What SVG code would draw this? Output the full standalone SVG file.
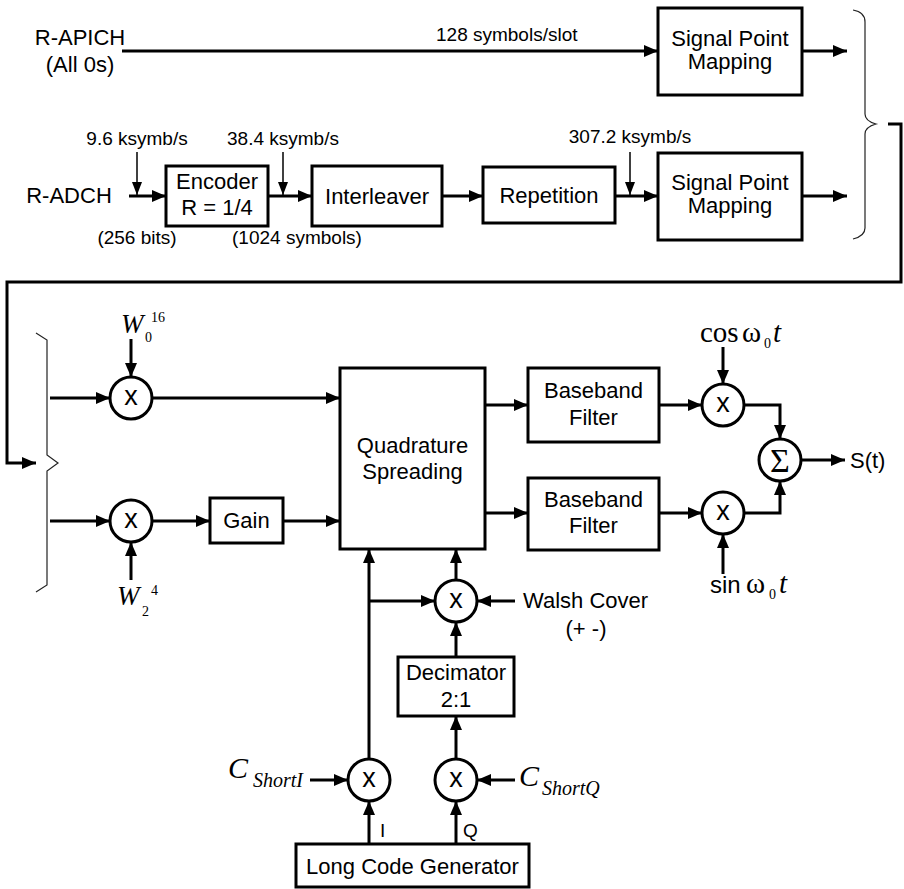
<svg xmlns="http://www.w3.org/2000/svg" width="904" height="889" viewBox="0 0 904 889">
<defs>
<marker id="a" viewBox="0 0 14 12" refX="14" refY="6" markerWidth="14" markerHeight="12" orient="auto" markerUnits="userSpaceOnUse"><path d="M0,0 L14,6 L0,12 z" fill="#000"/></marker>
<marker id="as" viewBox="0 0 13 10" refX="13" refY="5" markerWidth="13" markerHeight="10" orient="auto" markerUnits="userSpaceOnUse"><path d="M0,0 L13,5 L0,10 z" fill="#000"/></marker>
</defs>
<style>
.ln{stroke:#000;stroke-width:3;fill:none}
.th{stroke:#000;stroke-width:1.5;fill:none}
.br{stroke:#222;stroke-width:1.2;fill:none}
.bx{fill:#fff;stroke:#000;stroke-width:3}
.t{font-family:"Liberation Sans",Arial,sans-serif;font-size:22px;fill:#000}
.c{text-anchor:middle}
.s{font-size:19px}
.x{font-family:"Liberation Sans",Arial,sans-serif;font-size:27px;text-anchor:middle}
.m{font-family:"Liberation Serif","Times New Roman",serif;fill:#000}
</style>
<rect width="904" height="889" fill="#fff"/>

<g id="connectors">
<path class="ln" d="M122,51 H658" marker-end="url(#a)"/>
<path class="ln" d="M802,51 H847" marker-end="url(#a)"/>
<path class="ln" d="M129,196 H166" marker-end="url(#a)"/>
<path class="ln" d="M268,196 H312" marker-end="url(#a)"/>
<path class="ln" d="M442,196 H483" marker-end="url(#a)"/>
<path class="ln" d="M615,196 H658" marker-end="url(#a)"/>
<path class="ln" d="M802,196 H847" marker-end="url(#a)"/>
<path class="th" d="M137,152 V195" marker-end="url(#as)"/>
<path class="th" d="M283,152 V195" marker-end="url(#as)"/>
<path class="th" d="M630,152 V195" marker-end="url(#as)"/>
<path class="br" d="M853,10 Q865,12 865,22 L865,114 Q865,121 876,124 Q865,127 865,134 L865,228 Q865,236 853,239"/>
<path class="ln" d="M888,124 H901 V282 H7 V463 H36" marker-end="url(#a)"/>
<path class="br" d="M36,333 L47,340 L47,455 L58,463 L47,471 L47,585 L36,592"/>
<path class="ln" d="M50,398 H110" marker-end="url(#a)"/>
<path class="ln" d="M131,339 V377" marker-end="url(#a)"/>
<path class="ln" d="M152,398 H340" marker-end="url(#a)"/>
<path class="ln" d="M50,521 H110" marker-end="url(#a)"/>
<path class="ln" d="M131,580 V542" marker-end="url(#a)"/>
<path class="ln" d="M152,521 H210" marker-end="url(#a)"/>
<path class="ln" d="M283,521 H340" marker-end="url(#a)"/>
<path class="ln" d="M485,405 H528" marker-end="url(#a)"/>
<path class="ln" d="M485,513 H528" marker-end="url(#a)"/>
<path class="ln" d="M659,405 H702" marker-end="url(#a)"/>
<path class="ln" d="M659,513 H702" marker-end="url(#a)"/>
<path class="ln" d="M723,347 V384" marker-end="url(#a)"/>
<path class="ln" d="M723,574 V534" marker-end="url(#a)"/>
<path class="ln" d="M744,405 H780 V439" marker-end="url(#a)"/>
<path class="ln" d="M744,513 H780 V481" marker-end="url(#a)"/>
<path class="ln" d="M801,460 H845" marker-end="url(#a)"/>
<path class="ln" d="M369,759 V549" marker-end="url(#a)"/>
<path class="ln" d="M369,601 H435" marker-end="url(#a)"/>
<path class="ln" d="M456,580 V549" marker-end="url(#a)"/>
<path class="ln" d="M515,601 H477" marker-end="url(#a)"/>
<path class="ln" d="M456,657 V622" marker-end="url(#a)"/>
<path class="ln" d="M456,759 V716" marker-end="url(#a)"/>
<path class="ln" d="M310,780 H348" marker-end="url(#a)"/>
<path class="ln" d="M515,780 H477" marker-end="url(#a)"/>
<path class="ln" d="M369,844 V801" marker-end="url(#a)"/>
<path class="ln" d="M456,844 V801" marker-end="url(#a)"/>
</g>

<g id="labels">
<text class="t c" x="80" y="45">R-APICH</text>
<text class="t c" x="80" y="72">(All 0s)</text>
<text class="t s" x="436" y="41">128 symbols/slot</text>
<text class="t c" x="69" y="203">R-ADCH</text>
<text class="t s c" x="137" y="145">9.6 ksymb/s</text>
<text class="t s c" x="283" y="145">38.4 ksymb/s</text>
<text class="t s c" x="630" y="143">307.2 ksymb/s</text>
<text class="t s c" x="137" y="244">(256 bits)</text>
<text class="t s c" x="297" y="244">(1024 symbols)</text>
<text class="t" x="523" y="608">Walsh Cover</text>
<text class="t c" x="586" y="636">(+ -)</text>
<text class="t s" x="380" y="837">I</text>
<text class="t s" x="463" y="837">Q</text>
<text class="t" x="850" y="468">S(t)</text>
<text class="m" x="121" y="333" font-size="27" font-style="italic">W</text>
<text class="m" x="145" y="342" font-size="14">0</text>
<text class="m" x="151" y="322" font-size="14">16</text>
<text class="m" x="117" y="605" font-size="27" font-style="italic">W</text>
<text class="m" x="142" y="616" font-size="14">2</text>
<text class="m" x="151" y="595" font-size="14">4</text>
<text class="m" x="700" y="342" font-size="29">cos</text>
<text class="m" x="742" y="342" font-size="29">ω</text>
<text class="m" x="764" y="348" font-size="14">0</text>
<text class="m" x="773" y="342" font-size="29" font-style="italic">t</text>
<text class="t" x="710" y="593" style="font-size:24px">sin</text>
<text class="m" x="746" y="593" font-size="29">ω</text>
<text class="m" x="769" y="599" font-size="14">0</text>
<text class="m" x="779" y="593" font-size="29" font-style="italic">t</text>
<text class="m" x="228" y="778" font-size="30" font-style="italic">C</text>
<text class="m" x="253" y="787" font-size="20" font-style="italic">ShortI</text>
<text class="m" x="519" y="786" font-size="30" font-style="italic">C</text>
<text class="m" x="542" y="795" font-size="20" font-style="italic">ShortQ</text>
</g>

<g id="spm1"><rect class="bx" x="658" y="8" width="144" height="87"/><text class="t c" x="730" y="46">Signal Point</text><text class="t c" x="730" y="69">Mapping</text></g>
<g id="spm2"><rect class="bx" x="658" y="153" width="144" height="87"/><text class="t c" x="730" y="190">Signal Point</text><text class="t c" x="730" y="213">Mapping</text></g>
<g id="encoder"><rect class="bx" x="166" y="166" width="102" height="60"/><text class="t c" x="217" y="189">Encoder</text><text class="t c" x="217" y="215">R = 1/4</text></g>
<g id="interleaver"><rect class="bx" x="312" y="166" width="130" height="60"/><text class="t c" x="377" y="204">Interleaver</text></g>
<g id="repetition"><rect class="bx" x="483" y="167" width="132" height="56"/><text class="t c" x="549" y="203">Repetition</text></g>

<g id="mul-w0"><circle class="bx" cx="131" cy="398" r="21"/><text class="x" x="131" y="405">x</text></g>
<g id="mul-w2"><circle class="bx" cx="131" cy="521" r="21"/><text class="x" x="131" y="528">x</text></g>
<g id="gain"><rect class="bx" x="210" y="498" width="73" height="45"/><text class="t c" x="246.5" y="528">Gain</text></g>
<g id="quad"><rect class="bx" x="340" y="368" width="145" height="181"/><text class="t c" x="412.5" y="453">Quadrature</text><text class="t c" x="412.5" y="479">Spreading</text></g>
<g id="bb1"><rect class="bx" x="528" y="368" width="131" height="74"/><text class="t c" x="593.5" y="398">Baseband</text><text class="t c" x="593.5" y="425">Filter</text></g>
<g id="bb2"><rect class="bx" x="528" y="478" width="131" height="72"/><text class="t c" x="593.5" y="507">Baseband</text><text class="t c" x="593.5" y="533">Filter</text></g>
<g id="mul-cos"><circle class="bx" cx="723" cy="405" r="21"/><text class="x" x="723" y="412">x</text></g>
<g id="mul-sin"><circle class="bx" cx="723" cy="513" r="21"/><text class="x" x="723" y="520">x</text></g>
<g id="sum"><circle class="bx" cx="780" cy="460" r="21"/><text class="m" x="780" y="472" font-size="34" text-anchor="middle">Σ</text></g>
<g id="mul-walsh"><circle class="bx" cx="456" cy="601" r="21"/><text class="x" x="456" y="608">x</text></g>
<g id="decimator"><rect class="bx" x="398" y="657" width="116" height="59"/><text class="t c" x="456" y="680">Decimator</text><text class="t c" x="456" y="707">2:1</text></g>
<g id="mul-i"><circle class="bx" cx="369" cy="780" r="21"/><text class="x" x="369" y="787">x</text></g>
<g id="mul-q"><circle class="bx" cx="456" cy="780" r="21"/><text class="x" x="456" y="787">x</text></g>
<g id="lcg"><rect class="bx" x="296" y="844" width="233" height="43"/><text class="t c" x="412.5" y="874">Long Code Generator</text></g>
</svg>
